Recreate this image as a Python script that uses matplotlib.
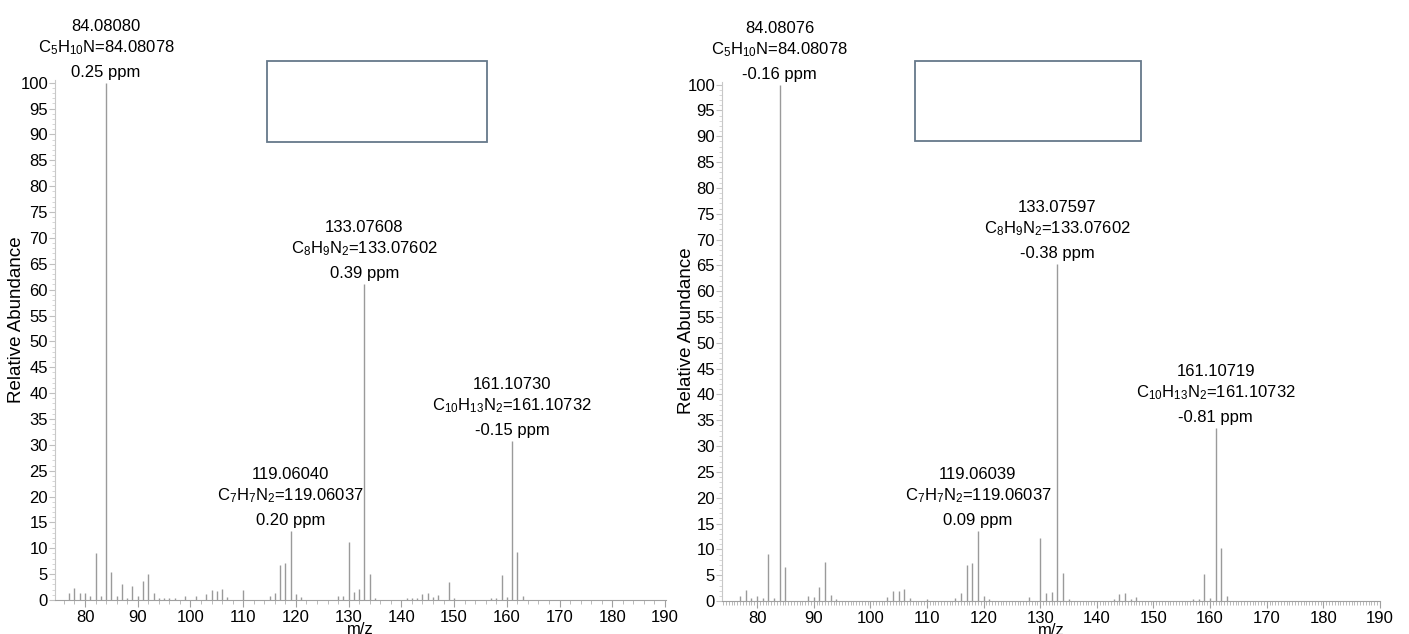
import matplotlib
matplotlib.use("Agg")
import matplotlib.pyplot as plt
from matplotlib.patches import Rectangle
from matplotlib.ticker import MultipleLocator

plt.rcParams['font.family'] = ['Liberation Sans', 'DejaVu Sans']
plt.rcParams['mathtext.fontset'] = 'custom'
plt.rcParams['mathtext.rm'] = 'Liberation Sans'
plt.rcParams['mathtext.it'] = 'Liberation Sans:italic'
plt.rcParams['mathtext.default'] = 'regular'

# left spectrum
mz_left = [77, 78, 79, 80, 81, 82, 83, 84, 85, 86, 87, 88, 89, 90, 91, 92, 93, 94, 95, 96, 97,
           99, 101, 103, 104, 105, 106, 107, 110, 115, 116, 117, 118, 119, 120, 121,
           128, 129, 130, 131, 132, 133, 134, 135, 141, 142, 143, 144, 145, 146, 147,
           149, 150, 157, 158, 159, 160, 161, 162, 163]
int_left = [1.3, 2.3, 1.3, 1.3, 0.8, 9.0, 0.8, 100, 5.5, 0.8, 3.0, 0.3, 2.8, 0.8, 3.6, 5.0, 1.4, 0.4, 0.3, 0.3, 0.3,
            0.8, 0.8, 1.2, 2.0, 1.8, 2.2, 0.6, 2.0, 0.8, 1.4, 6.8, 7.2, 13.3, 1.2, 0.6,
            0.8, 0.8, 11.3, 1.6, 2.1, 61.0, 5.0, 0.3, 0.3, 0.3, 0.3, 1.1, 1.4, 0.5, 0.9,
            3.4, 0.3, 0.3, 0.3, 4.9, 0.5, 30.8, 9.2, 0.8]

# right spectrum
mz_right = [77, 78, 79, 80, 81, 82, 83, 84, 85, 89, 90, 91, 92, 93, 94,
            103, 104, 105, 106, 107, 110, 115, 116, 117, 118, 119, 120, 121,
            128, 130, 131, 132, 133, 134, 135, 143, 144, 145, 146, 147,
            157, 158, 159, 160, 161, 162, 163]
int_right = [1.0, 2.2, 0.5, 1.0, 0.6, 9.2, 0.5, 100, 6.5, 1.0, 0.8, 2.7, 7.5, 1.2, 0.4,
             0.8, 2.0, 1.9, 2.4, 0.6, 0.4, 0.5, 1.5, 7.0, 7.3, 13.6, 1.0, 0.4,
             0.8, 12.2, 1.6, 1.8, 65.3, 5.5, 0.3, 0.4, 1.3, 1.5, 0.4, 0.8,
             0.4, 0.4, 5.2, 0.6, 33.5, 10.3, 1.0]

# annotations: (peak m/z, measured, formula, theoretical, ppm)
formulas = ['C$_5$H$_{10}$N', 'C$_7$H$_7$N$_2$', 'C$_8$H$_9$N$_2$', 'C$_{10}$H$_{13}$N$_2$']
theo = ['84.08078', '119.06037', '133.07602', '161.10732']
ann_mz = [84, 119, 133, 161]
meas_left = ['84.08080', '119.06040', '133.07608', '161.10730']
ppm_left = ['0.25', '0.20', '0.39', '-0.15']
meas_right = ['84.08076', '119.06039', '133.07597', '161.10719']
ppm_right = ['-0.16', '0.09', '-0.38', '-0.81']

fig = plt.figure(figsize=(14.09, 6.34), dpi=100)
ax1 = fig.add_axes([0.039, 0.0536, 0.4337, 0.820])
ax2 = fig.add_axes([0.5124, 0.052, 0.467, 0.8187])


def draw(ax, mz, inten, meas, ppm, xlim, minor_x, ylab_xy, box):
    heights = dict(zip(mz, inten))
    ax.vlines(mz, 0, inten, color='#9a9a9a', lw=1.0)
    ax.set_xlim(*xlim)
    ax.set_ylim(0, 100.5)
    for s in ['top', 'right']:
        ax.spines[s].set_visible(False)
    ax.spines['left'].set_color('#c8c8c8')
    ax.spines['bottom'].set_color('#a0a0a0')
    ax.xaxis.set_major_locator(MultipleLocator(10))
    ax.xaxis.set_minor_locator(MultipleLocator(minor_x))
    ax.yaxis.set_major_locator(MultipleLocator(5))
    ax.yaxis.set_minor_locator(MultipleLocator(1))
    ax.tick_params(axis='x', which='major', length=5, color='#a0a0a0', labelsize=12, pad=2)
    ax.tick_params(axis='x', which='minor', length=3, color='#b0b0b0')
    ax.tick_params(axis='y', which='major', length=4, color='#c0c0c0', labelsize=12, pad=1)
    ax.tick_params(axis='y', which='minor', length=2.5, color='#d0d0d0')
    ax.set_xlabel('m/z', fontsize=12)
    ax.xaxis.set_label_coords(0.5, -0.042)
    ax.set_ylabel('Relative Abundance', fontsize=13.5)
    ax.yaxis.set_label_coords(*ylab_xy)

    for m, f, t, me, p in zip(ann_mz, formulas, theo, meas, ppm):
        h = heights[m]
        lines = [p + ' ppm', f + '=' + t, me]
        for i, txt in enumerate(lines):
            ax.annotate(txt, xy=(m, h), xytext=(0, 3 + 23 * i), textcoords='offset pixels',
                        ha='center', va='bottom', fontsize=12, annotation_clip=False)

    ax.add_patch(Rectangle((box[0], box[1]), box[2], box[3], transform=ax.transAxes,
                           fill=False, edgecolor='#66788a', lw=1.3, clip_on=False))


draw(ax1, mz_left, int_left, meas_left, ppm_left, (74.3, 190.2), 2, (-0.049, 0.54),
     (0.347, 0.881, 0.360, 0.155))
draw(ax2, mz_right, int_right, meas_right, ppm_right, (73.8, 190.0), 0.5, (-0.041, 0.52),
     (0.293, 0.886, 0.344, 0.154))

fig.savefig('out.png', dpi=100)
